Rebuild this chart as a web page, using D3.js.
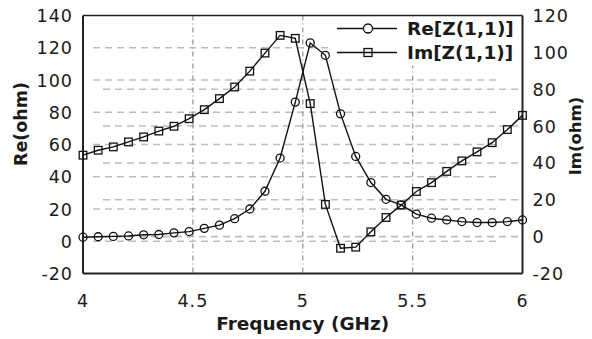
<!DOCTYPE html>
<html>
<head>
<meta charset="utf-8">
<script src="https://cdn.jsdelivr.net/npm/d3@7"></script>
<style>
  html, body { margin: 0; padding: 0; background: #fff; }
  svg { display: block; }
  text { font-family: "DejaVu Sans", sans-serif; fill: #1a1a1a; }
</style>
</head>
<body>
<svg id="chart" width="592" height="339"></svg>
<script>
// ---- data ----
const freq = [4.000, 4.069, 4.138, 4.207, 4.276, 4.345, 4.414, 4.483, 4.552, 4.621,
              4.690, 4.759, 4.828, 4.897, 4.966, 5.034, 5.103, 5.172, 5.241, 5.310,
              5.379, 5.448, 5.517, 5.586, 5.655, 5.724, 5.793, 5.862, 5.931, 6.000];
const reZ = [2.5, 2.8, 3.0, 3.3, 4.0, 4.2, 5.2, 6.0, 8.0, 10.0,
             14.0, 20.0, 31.0, 51.6, 86.3, 123.0, 115.3, 79.0, 52.6, 36.4,
             26.0, 22.6, 16.8, 14.3, 13.2, 12.2, 11.6, 11.6, 12.2, 13.2];
const imZ = [44.2, 46.9, 48.7, 51.4, 54.1, 57.3, 59.9, 64.0, 68.9, 74.9,
             81.2, 89.8, 99.6, 109.2, 107.6, 72.2, 17.5, -6.3, -5.7, 2.6,
             10.4, 17.1, 24.5, 29.3, 35.4, 41.1, 46.0, 51.0, 58.1, 65.8];
const xTicks = [4, 4.5, 5, 5.5, 6];
const xTickLabels = ["4", "4.5", "5", "5.5", "6"];
const leftTicks = [-20, 0, 20, 40, 60, 80, 100, 120, 140];
const rightTicks = [-20, 0, 20, 40, 60, 80, 100, 120];
const leftGrid = [0, 20, 40, 60, 80, 100, 120];
const rightGrid = [0, 20, 40, 60, 80];
const vGrid = [4.5, 5, 5.5];
const seriesNames = ["Re[Z(1,1)]", "Im[Z(1,1)]"];
const xTitle = "Frequency (GHz)";
const yLeftTitle = "Re(ohm)";
const yRightTitle = "Im(ohm)";

// ---- layout ----
const L = 83, R = 522.5, T = 15.5, B = 273.5;
const svg = d3.select("#chart");
const x = d3.scaleLinear().domain([4, 6]).range([L, R]);
const yL = d3.scaleLinear().domain([-20, 140]).range([B, T]);
const yR = d3.scaleLinear().domain([-20, 120]).range([B, T]);

// horizontal grid (left axis)
svg.append("g").selectAll("line").data(leftGrid).join("line")
  .attr("x1", L + 10).attr("x2", 500)
  .attr("y1", d => yL(d)).attr("y2", d => yL(d))
  .attr("stroke", "#bdbdbd").attr("stroke-width", 1.6).attr("stroke-dasharray", "7,5");
// horizontal grid (right axis)
svg.append("g").selectAll("line").data(rightGrid).join("line")
  .attr("x1", L + 20).attr("x2", 518)
  .attr("y1", d => yR(d)).attr("y2", d => yR(d))
  .attr("stroke", "#bdbdbd").attr("stroke-width", 1.6).attr("stroke-dasharray", "7,5");
// vertical grid
svg.append("g").selectAll("line").data(vGrid).join("line")
  .attr("x1", d => x(d)).attr("x2", d => x(d))
  .attr("y1", T).attr("y2", B)
  .attr("stroke", "#999").attr("stroke-width", 1.3).attr("stroke-dasharray", "5,3,1,3");

// legend background (covers grid)
svg.append("rect").attr("x", 330).attr("y", T + 1).attr("width", R - 331).attr("height", 49)
  .attr("fill", "#fff");

// frame
svg.append("line").attr("x1", L).attr("x2", R).attr("y1", T).attr("y2", T)
  .attr("stroke", "#222").attr("stroke-width", 1.5);
svg.append("line").attr("x1", L).attr("x2", R).attr("y1", B).attr("y2", B)
  .attr("stroke", "#222").attr("stroke-width", 2);
svg.append("line").attr("x1", L).attr("x2", L).attr("y1", T).attr("y2", B)
  .attr("stroke", "#222").attr("stroke-width", 2);
svg.append("line").attr("x1", R).attr("x2", R).attr("y1", T).attr("y2", B)
  .attr("stroke", "#222").attr("stroke-width", 2);

// tick labels
const tickFont = 17.5;
svg.append("g").selectAll("text").data(leftTicks).join("text")
  .attr("x", L - 10).attr("y", d => yL(d) + 6.5)
  .attr("text-anchor", "end").attr("font-size", tickFont).attr("letter-spacing", 1)
  .text(d => d);
svg.append("g").selectAll("text").data(rightTicks).join("text")
  .attr("x", R + 10).attr("y", d => yR(d) + 6.5)
  .attr("text-anchor", "start").attr("font-size", tickFont).attr("letter-spacing", 1)
  .text(d => d);
svg.append("g").selectAll("text").data(xTicks).join("text")
  .attr("x", d => x(d)).attr("y", 307)
  .attr("text-anchor", "middle").attr("font-size", tickFont).attr("letter-spacing", 1)
  .text((d, i) => xTickLabels[i]);

// axis titles
svg.append("text").attr("x", (L + R) / 2).attr("y", 330)
  .attr("text-anchor", "middle").attr("font-size", 18.5).attr("font-weight", "bold")
  .text(xTitle);
svg.append("text").attr("transform", "translate(27,124) rotate(-90)")
  .attr("text-anchor", "middle").attr("font-size", 17.5).attr("font-weight", "bold")
  .text(yLeftTitle);
svg.append("text").attr("transform", "translate(581,136) rotate(-90)")
  .attr("text-anchor", "middle").attr("font-size", 16.5).attr("font-weight", "bold")
  .text(yRightTitle);

// series
const reLine = d3.line().x((d, i) => x(freq[i])).y(d => yL(d));
const imLine = d3.line().x((d, i) => x(freq[i])).y(d => yR(d));
svg.append("path").datum(reZ).attr("d", reLine)
  .attr("fill", "none").attr("stroke", "#111").attr("stroke-width", 1.4);
svg.append("path").datum(imZ).attr("d", imLine)
  .attr("fill", "none").attr("stroke", "#111").attr("stroke-width", 1.4);

svg.append("g").selectAll("circle").data(reZ).join("circle")
  .attr("cx", (d, i) => x(freq[i])).attr("cy", d => yL(d)).attr("r", 4)
  .attr("fill", "none").attr("stroke", "#111").attr("stroke-width", 1.3);
svg.append("g").selectAll("rect").data(imZ).join("rect")
  .attr("x", (d, i) => x(freq[i]) - 3.8).attr("y", d => yR(d) - 3.8)
  .attr("width", 7.6).attr("height", 7.6)
  .attr("fill", "none").attr("stroke", "#111").attr("stroke-width", 1.3);

// legend
const lg = svg.append("g");
const legY = [28.5, 52.5];
lg.selectAll("line").data(seriesNames).join("line")
  .attr("x1", 337).attr("x2", 397).attr("y1", (d, i) => legY[i]).attr("y2", (d, i) => legY[i])
  .attr("stroke", "#111").attr("stroke-width", 1.4);
lg.append("circle").attr("cx", 368).attr("cy", legY[0]).attr("r", 4.5)
  .attr("fill", "#fff").attr("stroke", "#111").attr("stroke-width", 1.3);
lg.append("rect").attr("x", 364).attr("y", legY[1] - 4).attr("width", 8).attr("height", 8)
  .attr("fill", "none").attr("stroke", "#111").attr("stroke-width", 1.3);
lg.selectAll("text").data(seriesNames).join("text")
  .attr("x", 407).attr("y", (d, i) => legY[i] + 6.5)
  .attr("font-size", 18.5).attr("font-weight", "bold")
  .text(d => d);
</script>
</body>
</html>
